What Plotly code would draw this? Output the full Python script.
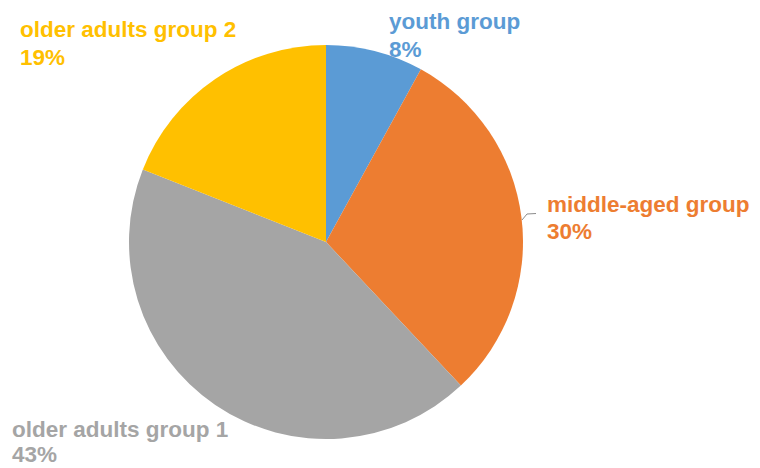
import plotly.graph_objects as go

# Share of respondents by age group
groups = ["youth group", "middle-aged group", "older adults group 1", "older adults group 2"]
shares = [8, 30, 43, 19]
colors = ["#5B9BD5", "#ED7D31", "#A5A5A5", "#FFC000"]

W, H = 760, 468
CX, CY, R = 326, 242, 197  # pie centre and radius in pixels
FONT = "Liberation Sans, Arial, Helvetica, sans-serif"
FS = 22.5


def px_x(x):
    return x / W


def px_y(y):
    return 1 - y / H


fig = go.Figure(
    go.Pie(
        labels=groups,
        values=shares,
        sort=False,
        direction="clockwise",
        rotation=0,
        marker=dict(colors=colors, line=dict(width=0)),
        textinfo="none",
        hoverinfo="label+percent",
        showlegend=False,
        domain=dict(x=[px_x(CX - R), px_x(CX + R)], y=[px_y(CY + R), px_y(CY - R)]),
    )
)

# label position per group: left edge, baseline of name line, baseline of value line (pixels)
label_pos = {
    "youth group": (387, 28, 56),
    "middle-aged group": (545, 211, 238),
    "older adults group 1": (10, 436, 461.5),
    "older adults group 2": (18, 36, 64),
}
ascent = 1 + 0.905 * FS  # box top to text baseline

for name, val, col in zip(groups, shares, colors):
    lx, b1, b2 = label_pos[name]
    for txt, base in ((name, b1), (f"{val}%", b2)):
        fig.add_annotation(
            x=px_x(lx), y=px_y(base - ascent), xref="paper", yref="paper",
            xanchor="left", yanchor="top", align="left", showarrow=False,
            text=f"<b>{txt}</b>",
            font=dict(family=FONT, size=FS, color=col),
        )

# short leader line next to the middle-aged label
fig.add_shape(
    type="path", xref="paper", yref="paper",
    path=f"M {px_x(522)} {px_y(220)} L {px_x(527)} {px_y(214)} L {px_x(536)} {px_y(213.5)}",
    line=dict(color="#8C8C8C", width=1),
)

fig.update_layout(
    width=W, height=H,
    margin=dict(l=0, r=0, t=0, b=0),
    paper_bgcolor="white", plot_bgcolor="white",
)

fig.write_html("out.html")
